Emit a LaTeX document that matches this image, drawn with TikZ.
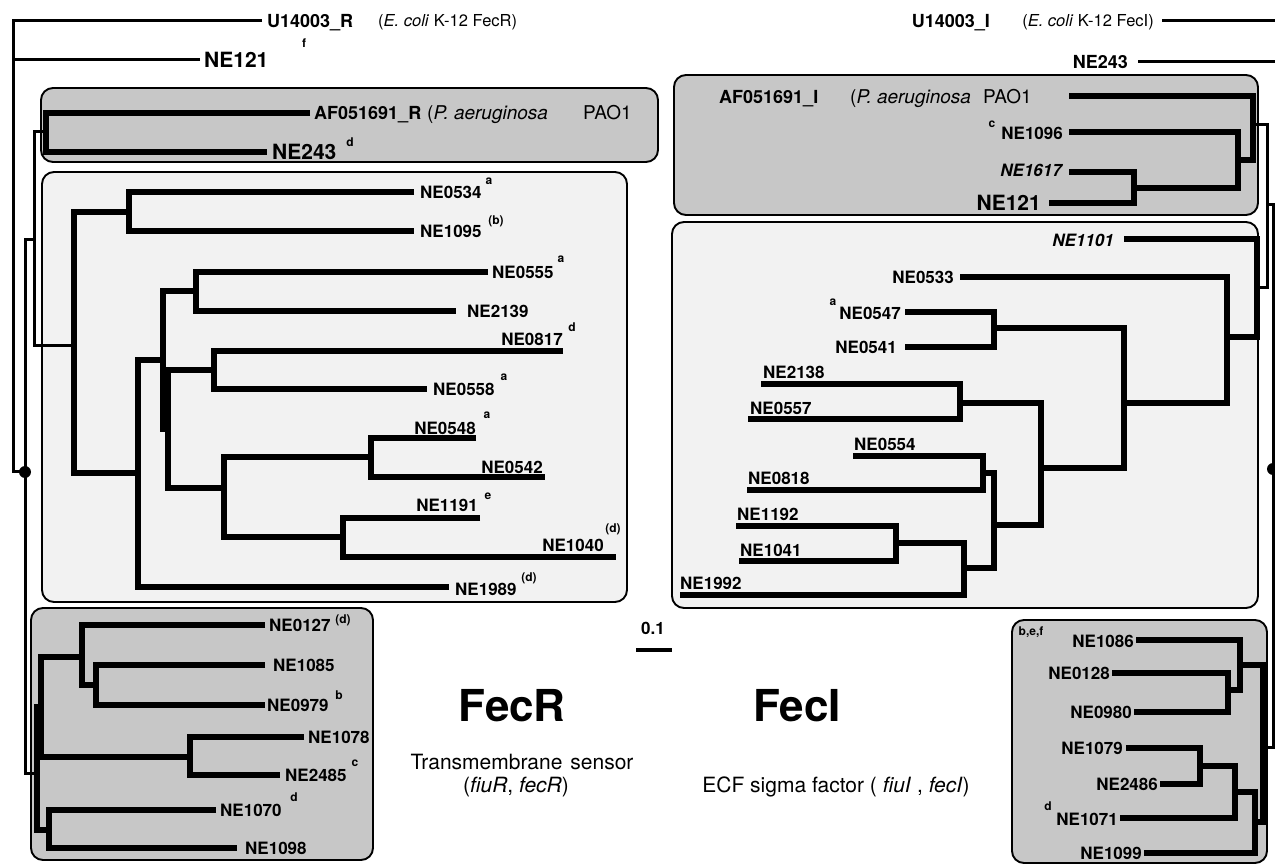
\documentclass[tikz,border=0pt]{standalone}
\usepackage{fontspec}
\setmainfont{TeX Gyre Heros}
\definecolor{boxgray}{gray}{0.78}
\definecolor{boxlight}{gray}{0.95}
\tikzset{
  br/.style={line width=5.5pt, line join=miter},
  cn/.style={line width=3pt, line join=miter},
  grp/.style={draw=black, line width=1.9pt, rounded corners=12pt},
  lab/.style={font=\bfseries\fontsize{17}{17}\selectfont, inner sep=0pt, text height=12.2pt, text depth=0pt},
  ilab/.style={font=\bfseries\itshape\fontsize{17}{17}\selectfont, inner sep=0pt, text height=12.2pt, text depth=0pt},
  toplab/.style={font=\bfseries\fontsize{18}{18}\selectfont, inner sep=0pt, text height=12.9pt, text depth=0pt},
  biglab/.style={font=\bfseries\fontsize{21}{21}\selectfont, inner sep=0pt, text height=15pt, text depth=0pt},
  plain/.style={font=\fontsize{16.5}{16.5}\selectfont, inner sep=0pt, text height=11.8pt, text depth=0pt},
  psp/.style={font=\fontsize{19}{19}\selectfont, inner sep=0pt, text height=13.6pt, text depth=0pt},
  sup/.style={font=\bfseries\fontsize{12}{12}\selectfont, inner sep=0pt},
  title/.style={font=\bfseries\fontsize{44}{44}\selectfont, inner sep=0pt},
  desc/.style={font=\fontsize{21}{21}\selectfont, inner sep=0pt},
}
\begin{document}
\begin{tikzpicture}[x=1pt,y=-1pt]
\useasboundingbox (0,0) rectangle (1275,866);
\clip (0,0) rectangle (1275,866);
\fill[white] (0,0) rectangle (1275,866);

% ---------- group boxes ----------
\draw[grp, fill=boxgray]  (41,88)   rectangle (658,162);
\draw[grp, fill=boxlight] (42,172)  rectangle (627,602);
\draw[grp, fill=boxgray]  (31,608)  rectangle (373,860);
\draw[grp, fill=boxgray]  (674,75)  rectangle (1258,215);
\draw[grp, fill=boxlight] (672,222) rectangle (1258,608);
\draw[grp, fill=boxgray]  (1012,620) rectangle (1267,863);

% ---------- left tree (FecR) ----------
\draw[cn] (262,21) -- (13,21) -- (13,472) -- (25,472);
\draw[cn] (200,60) -- (13,60);
\draw[cn] (34,240) -- (25,240) -- (25,773) -- (37,773);
\draw[cn] (46,132) -- (34,132) -- (34,346) -- (74,346);
\fill (25,472) circle (6);

\draw[br] (310,113) -- (46,113) -- (46,152) -- (267,152);

\draw[br] (414,192) -- (129,192) -- (129,231) -- (414,231);
\draw[br] (129,212) -- (74,212) -- (74,473) -- (138,473);
\draw[br] (163,360) -- (138,360) -- (138,587) -- (449,587);
\draw[br] (196,291) -- (163,291) -- (163,429) -- (168,429);
\draw[br] (488,272) -- (196,272) -- (196,311) -- (456,311);
\draw[br] (214,370) -- (168,370) -- (168,488) -- (224,488);
\draw[br] (563,351) -- (214,351) -- (214,389) -- (427,389);
\draw[br] (371,457) -- (224,457) -- (224,537) -- (343,537);
\draw[br] (476,438) -- (371,438) -- (371,477) -- (545,477);
\draw[br] (480,518) -- (343,518) -- (343,557) -- (616,557);

\draw[br] (265,625) -- (82,625) -- (82,685) -- (96,685);
\draw[br] (265,665) -- (96,665) -- (96,705) -- (265,705);
\draw[br] (82,657) -- (41,657) -- (41,757) -- (190,757);
\draw[br] (304,737) -- (190,737) -- (190,775) -- (280,775);
\draw[br] (41,707) -- (37,707) -- (37,830) -- (49,830);
\draw[br] (216,810) -- (49,810) -- (49,848) -- (237,848);

% ---------- right tree (FecI) ----------
\draw[cn] (1162,21) -- (1280,21);
\draw[cn] (1138,62) -- (1280,62);
\draw[cn] (1253,125) -- (1267,125) -- (1267,288) -- (1257,288);
\draw[cn] (1267,205) -- (1273,205) -- (1273,747) -- (1263,747);
\fill (1273,469) circle (6);

\draw[br] (1069,96) -- (1253,96) -- (1253,160) -- (1238,160);
\draw[br] (1069,132) -- (1238,132) -- (1238,188) -- (1134,188);
\draw[br] (1069,172) -- (1134,172) -- (1134,203) -- (1049,203);

\draw[br] (1124,239) -- (1257,239) -- (1257,337) -- (1227,337);
\draw[br] (960,277) -- (1227,277) -- (1227,403) -- (1124,403);
\draw[br] (994,328) -- (1124,328) -- (1124,468) -- (1041,468);
\draw[br] (905,312) -- (994,312) -- (994,347) -- (905,347);
\draw[br] (960,403) -- (1041,403) -- (1041,525) -- (994,525);
\draw[br] (761,384) -- (960,384) -- (960,419) -- (748,419);
\draw[br] (853,456) -- (983,456) -- (983,490) -- (747,490);
\draw[br] (983,473) -- (994,473) -- (994,568) -- (964,568);
\draw[br] (736,526) -- (896,526) -- (896,561) -- (739,561);
\draw[br] (896,543) -- (964,543) -- (964,595) -- (680,595);

\draw[br] (1136,640) -- (1240,640) -- (1240,690) -- (1228,690);
\draw[br] (1112,673) -- (1228,673) -- (1228,712) -- (1134,712);
\draw[br] (1240,665) -- (1263,665) -- (1263,822) -- (1255,822);
\draw[br] (1126,748) -- (1200,748) -- (1200,784) -- (1160,784);
\draw[br] (1200,766) -- (1235,766) -- (1235,818) -- (1120,818);
\draw[br] (1235,792) -- (1255,792) -- (1255,853) -- (1144,853);

% ---------- labels, left ----------
\node[toplab, anchor=west] (U14003R) at (267,21) {U14003\_R};
\node[plain, anchor=west] (ecoliR) at (378,21) {(\textit{E. coli} K-12 FecR)};
\node[biglab, anchor=west] (NE121L) at (204,60) {NE121};
\node[sup] (sNE121L) at (304,43) {f};
\node[toplab, anchor=west] (AFR) at (314,113) {AF051691\_R};
\node[psp, anchor=west] (paeRa) at (427,113) {(\textit{P. aeruginosa}};
\node[psp, anchor=west] (paeRc) at (583,113) {PAO1};
\node[biglab, anchor=west] (NE243L) at (272,152) {NE243};
\node[sup] (sNE243L) at (350,142) {d};

\node[lab, anchor=west] (NE0534) at (420,192) {NE0534};
\node[sup] (sNE0534) at (489,181) {a};
\node[lab, anchor=west] (NE1095) at (420,231) {NE1095};
\node[sup] (sNE1095) at (496,221) {(b)};
\node[lab, anchor=west] (NE0555) at (492,272) {NE0555};
\node[sup] (sNE0555) at (561,259) {a};
\node[lab, anchor=west] (NE2139) at (467,311) {NE2139};
\node[lab, anchor=east] (NE0817) at (563,339) {NE0817};
\node[sup] (sNE0817) at (572,327) {d};
\node[lab, anchor=west] (NE0558) at (433,389) {NE0558};
\node[sup] (sNE0558) at (504,377) {a};
\node[lab, anchor=east] (NE0548) at (476,428) {NE0548};
\node[sup] (sNE0548) at (487,415) {a};
\node[lab, anchor=east] (NE0542) at (543,467) {NE0542};
\node[lab, anchor=east] (NE1191) at (478,505) {NE1191};
\node[sup] (sNE1191) at (488,496) {e};
\node[lab, anchor=east] (NE1040) at (604,545) {NE1040};
\node[sup] (sNE1040) at (613,529) {(d)};
\node[lab, anchor=west] (NE1989) at (455,589) {NE1989};
\node[sup] (sNE1989) at (529,578) {(d)};

\node[lab, anchor=west] (NE0127) at (269,625) {NE0127};
\node[sup] (sNE0127) at (343,620) {(d)};
\node[lab, anchor=west] (NE1085) at (273,665) {NE1085};
\node[lab, anchor=west] (NE0979) at (267,705) {NE0979};
\node[sup] (sNE0979) at (339,695) {b};
\node[lab, anchor=west] (NE1078) at (308,737) {NE1078};
\node[lab, anchor=west] (NE2485) at (285,775) {NE2485};
\node[sup] (sNE2485) at (355,763) {c};
\node[lab, anchor=west] (NE1070) at (220,810) {NE1070};
\node[sup] (sNE1070) at (294,797) {d};
\node[lab, anchor=west] (NE1098) at (245,848) {NE1098};

% ---------- labels, right ----------
\node[plain, anchor=east] (ecoliI) at (1154,21) {(\textit{E. coli} K-12 FecI)};
\node[toplab, anchor=east] (U14003I) at (990,21) {U14003\_I};
\node[toplab, anchor=east] (NE243R) at (1128,62) {NE243};
\node[toplab, anchor=west] (AFI) at (719,97) {AF051691\_I};
\node[psp, anchor=west] (paeIa) at (850,97) {(\textit{P. aeruginosa}};
\node[psp, anchor=west] (paeIc) at (983,97) {PAO1};
\node[sup] (sNE1096) at (992,124) {c};
\node[lab, anchor=east] (NE1096) at (1063,133) {NE1096};
\node[ilab, anchor=east] (NE1617) at (1062,170) {NE1617};
\node[biglab, anchor=east] (NE121R) at (1041,203) {NE121};

\node[ilab, anchor=east] (NE1101) at (1114,240) {NE1101};
\node[lab, anchor=east] (NE0533) at (954,277) {NE0533};
\node[lab, anchor=east] (NE0547) at (901,313) {NE0547};
\node[sup] (sNE0547) at (833,302) {a};
\node[lab, anchor=east] (NE0541) at (897,347) {NE0541};
\node[lab, anchor=west] (NE2138) at (763,372) {NE2138};
\node[lab, anchor=west] (NE0557) at (750,408) {NE0557};
\node[lab, anchor=west] (NE0554) at (854,444) {NE0554};
\node[lab, anchor=west] (NE0818) at (748,478) {NE0818};
\node[lab, anchor=west] (NE1192) at (737,514) {NE1192};
\node[lab, anchor=west] (NE1041) at (740,550) {NE1041};
\node[lab, anchor=west] (NE1992) at (680,583) {NE1992};

\node[sup] (sNE1086) at (1031,632) {b,e,f};
\node[lab, anchor=east] (NE1086) at (1134,641) {NE1086};
\node[lab, anchor=east] (NE0128) at (1110,673) {NE0128};
\node[lab, anchor=east] (NE0980) at (1132,712) {NE0980};
\node[lab, anchor=east] (NE1079) at (1123,748) {NE1079};
\node[lab, anchor=east] (NE2486) at (1158,784) {NE2486};
\node[sup] (sNE1071) at (1048,806) {d};
\node[lab, anchor=east] (NE1071) at (1118,819) {NE1071};
\node[lab, anchor=east] (NE1099) at (1142,853) {NE1099};

% ---------- scale bar and titles ----------
\node[lab] (scalelab) at (653,628) {0.1};
\coordinate (sbA) at (636,650);
\coordinate (sbB) at (672,650);
\draw[line width=3.5pt] (sbA) -- (sbB);

\node[title] (FecR) at (512,706) {FecR};
\node[desc] (tms) at (522,762) {Transmembrane\hspace{8pt}sensor};
\node[desc] (fiuR) at (516,787) {(\textit{fiuR}, \textit{fecR})};
\node[title] (FecI) at (797,706) {FecI};
\node[desc] (ecf) at (836,787) {ECF sigma factor ( \textit{fiuI} , \textit{fecI})};
\end{tikzpicture}
\end{document}
